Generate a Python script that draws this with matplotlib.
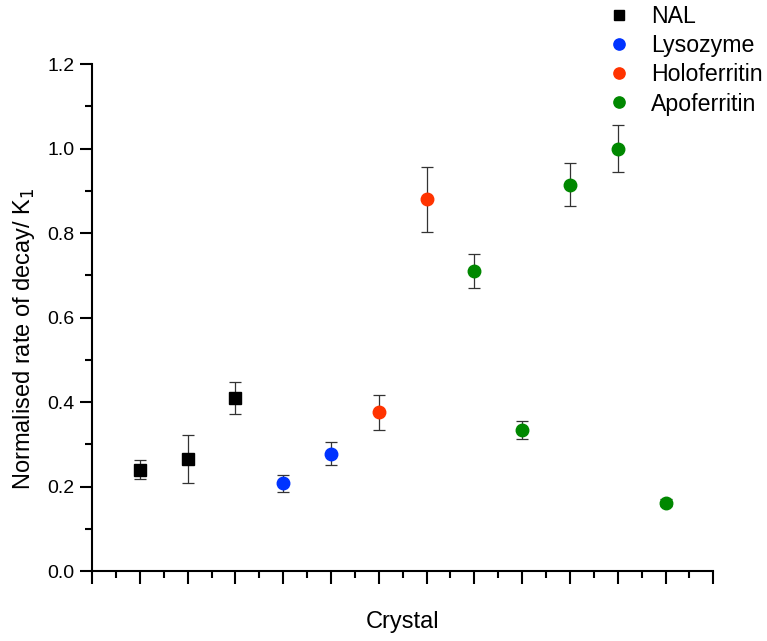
import numpy as np
import matplotlib.pyplot as plt
from matplotlib.ticker import MultipleLocator, NullFormatter

plt.rcParams['font.family'] = ['Liberation Sans', 'DejaVu Sans']

# crystal index, normalised decay rate, error
nal_x = [1, 2, 3]
nal_y = [0.240, 0.265, 0.410]
nal_err = [0.022, 0.057, 0.038]

lys_x = [4, 5]
lys_y = [0.208, 0.278]
lys_err = [0.020, 0.027]

holo_x = [6, 7]
holo_y = [0.376, 0.880]
holo_err = [0.042, 0.077]

apo_x = [8, 9, 10, 11, 12]
apo_y = [0.710, 0.334, 0.915, 1.000, 0.162]
apo_err = [0.040, 0.022, 0.052, 0.056, 0.008]

fig = plt.figure(figsize=(7.67, 6.41), dpi=100)
ax = fig.add_axes([0.120, 0.109, 0.810, 0.791])

series = [
    (nal_x, nal_y, nal_err, 's', '#000000', 'NAL', 8),
    (lys_x, lys_y, lys_err, 'o', '#0033FF', 'Lysozyme', 9),
    (holo_x, holo_y, holo_err, 'o', '#FF3300', 'Holoferritin', 9),
    (apo_x, apo_y, apo_err, 'o', '#008800', 'Apoferritin', 9),
]
handles = []
for x, y, e, m, c, lab, ms in series:
    ax.errorbar(x, y, yerr=e, fmt='none', ecolor='#333333', elinewidth=0.9,
                capsize=4.5, capthick=0.9, zorder=2)
    h, = ax.plot(x, y, m, color=c, ms=ms, mec=c, linestyle='none', label=lab, zorder=3)
    handles.append(h)

ax.set_xlim(0, 13)
ax.set_ylim(0, 1.2)
ax.xaxis.set_major_locator(MultipleLocator(1))
ax.xaxis.set_minor_locator(MultipleLocator(0.5))
ax.xaxis.set_major_formatter(NullFormatter())
ax.yaxis.set_major_locator(MultipleLocator(0.2))
ax.yaxis.set_minor_locator(MultipleLocator(0.1))
ax.yaxis.set_major_formatter(plt.FuncFormatter(lambda v, p: f"{v:.1f}"))

for s in ['top', 'right']:
    ax.spines[s].set_visible(False)
for s in ['left', 'bottom']:
    ax.spines[s].set_linewidth(1.5)
ax.tick_params(which='major', direction='out', length=9, width=1.5, labelsize=14)
ax.tick_params(which='minor', direction='out', length=5, width=1.5)

ax.set_xlabel("Crystal", fontsize=17)
ax.xaxis.set_label_coords(0.5, -0.078)
ax.set_ylabel("Normalised rate of decay/ K$_1$", fontsize=17)
ax.yaxis.set_label_coords(-0.089, 0.458)

fig.legend(handles=handles, loc='upper left', bbox_to_anchor=(0.7825, 1.007),
           frameon=False, fontsize=16.7, handlelength=0.8, handletextpad=1.0,
           labelspacing=0.27, borderaxespad=0, markerscale=0.9)

fig.savefig('out.png', dpi=100)
